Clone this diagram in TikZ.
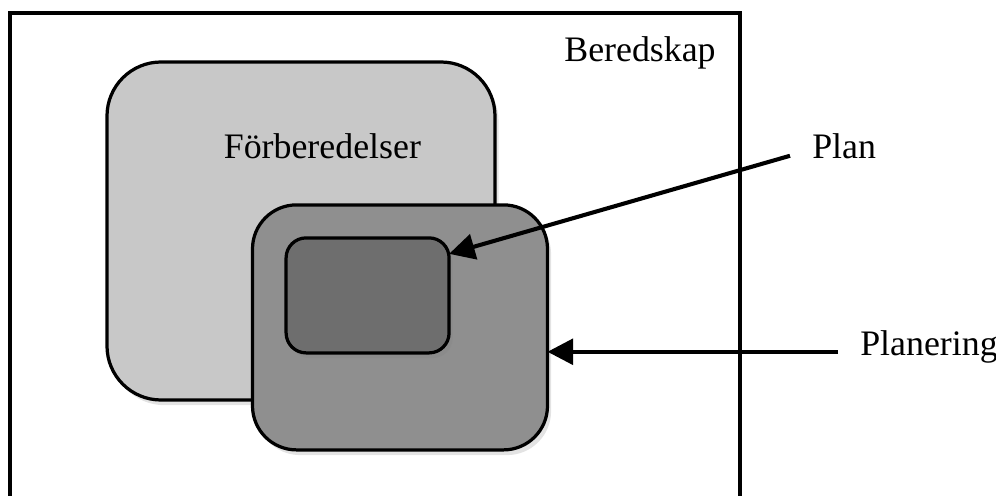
\documentclass[tikz,border=0pt]{standalone}
\usepackage{fontspec}
\setmainfont{Liberation Serif}
\usepackage{xcolor}
\usetikzlibrary{arrows.meta,positioning,shadows}

\definecolor{forbgray}{RGB}{200,200,200}
\definecolor{planeringgray}{RGB}{143,143,143}
\definecolor{plangray}{RGB}{110,110,110}

\begin{document}
\begin{tikzpicture}[
    box/.style={draw=black, line width=2.3pt, inner sep=0pt, outer sep=0pt,
        drop shadow={opacity=0.22, shadow xshift=0.09cm, shadow yshift=-0.13cm}},
    lbl/.style={font=\fontsize{25.5}{29}\selectfont, inner sep=0pt},
    arr/.style={line width=2.9pt, -{Triangle[length=0.64cm, width=0.64cm]}}
]
    \useasboundingbox (0,0) rectangle (24.9,12.375);

    % Beredskap
    \draw[line width=2.4pt] (0.25,-0.5) -- (0.25,12.05) -- (18.5,12.05) -- (18.5,-0.5);
    \node[lbl, anchor=base] (beredskap) at (16.0,10.825) {Beredskap};

    % Forberedelser
    \node[box, fill=forbgray, rounded corners=1.35cm,
        minimum width=9.7cm, minimum height=8.45cm] (forb) at (7.525,6.6) {};
    \node[lbl, anchor=base] (forblbl) at (8.06,8.4) {Förberedelser};

    % Planering
    \node[box, fill=planeringgray, rounded corners=1.1cm,
        minimum width=7.375cm, minimum height=6.125cm] (planering) at (10.0,4.19) {};

    % Plan
    \node[box, fill=plangray, rounded corners=0.5cm,
        minimum width=4.075cm, minimum height=2.875cm] (plan) at (9.19,4.99) {};

    % labels to the right
    \node[lbl, anchor=base west, inner xsep=0.55cm] (planlbl) at (19.75,8.4) {Plan};
    \node[lbl, anchor=base west, inner xsep=0.55cm] (planeringlbl) at (20.95,3.5) {Planering};

    % arrows
    \draw[arr] (planlbl.mid west) -- (plan.27);
    \draw[arr] (planeringlbl.mid west) -- (planeringlbl.mid west -| planering.east);
\end{tikzpicture}
\end{document}
